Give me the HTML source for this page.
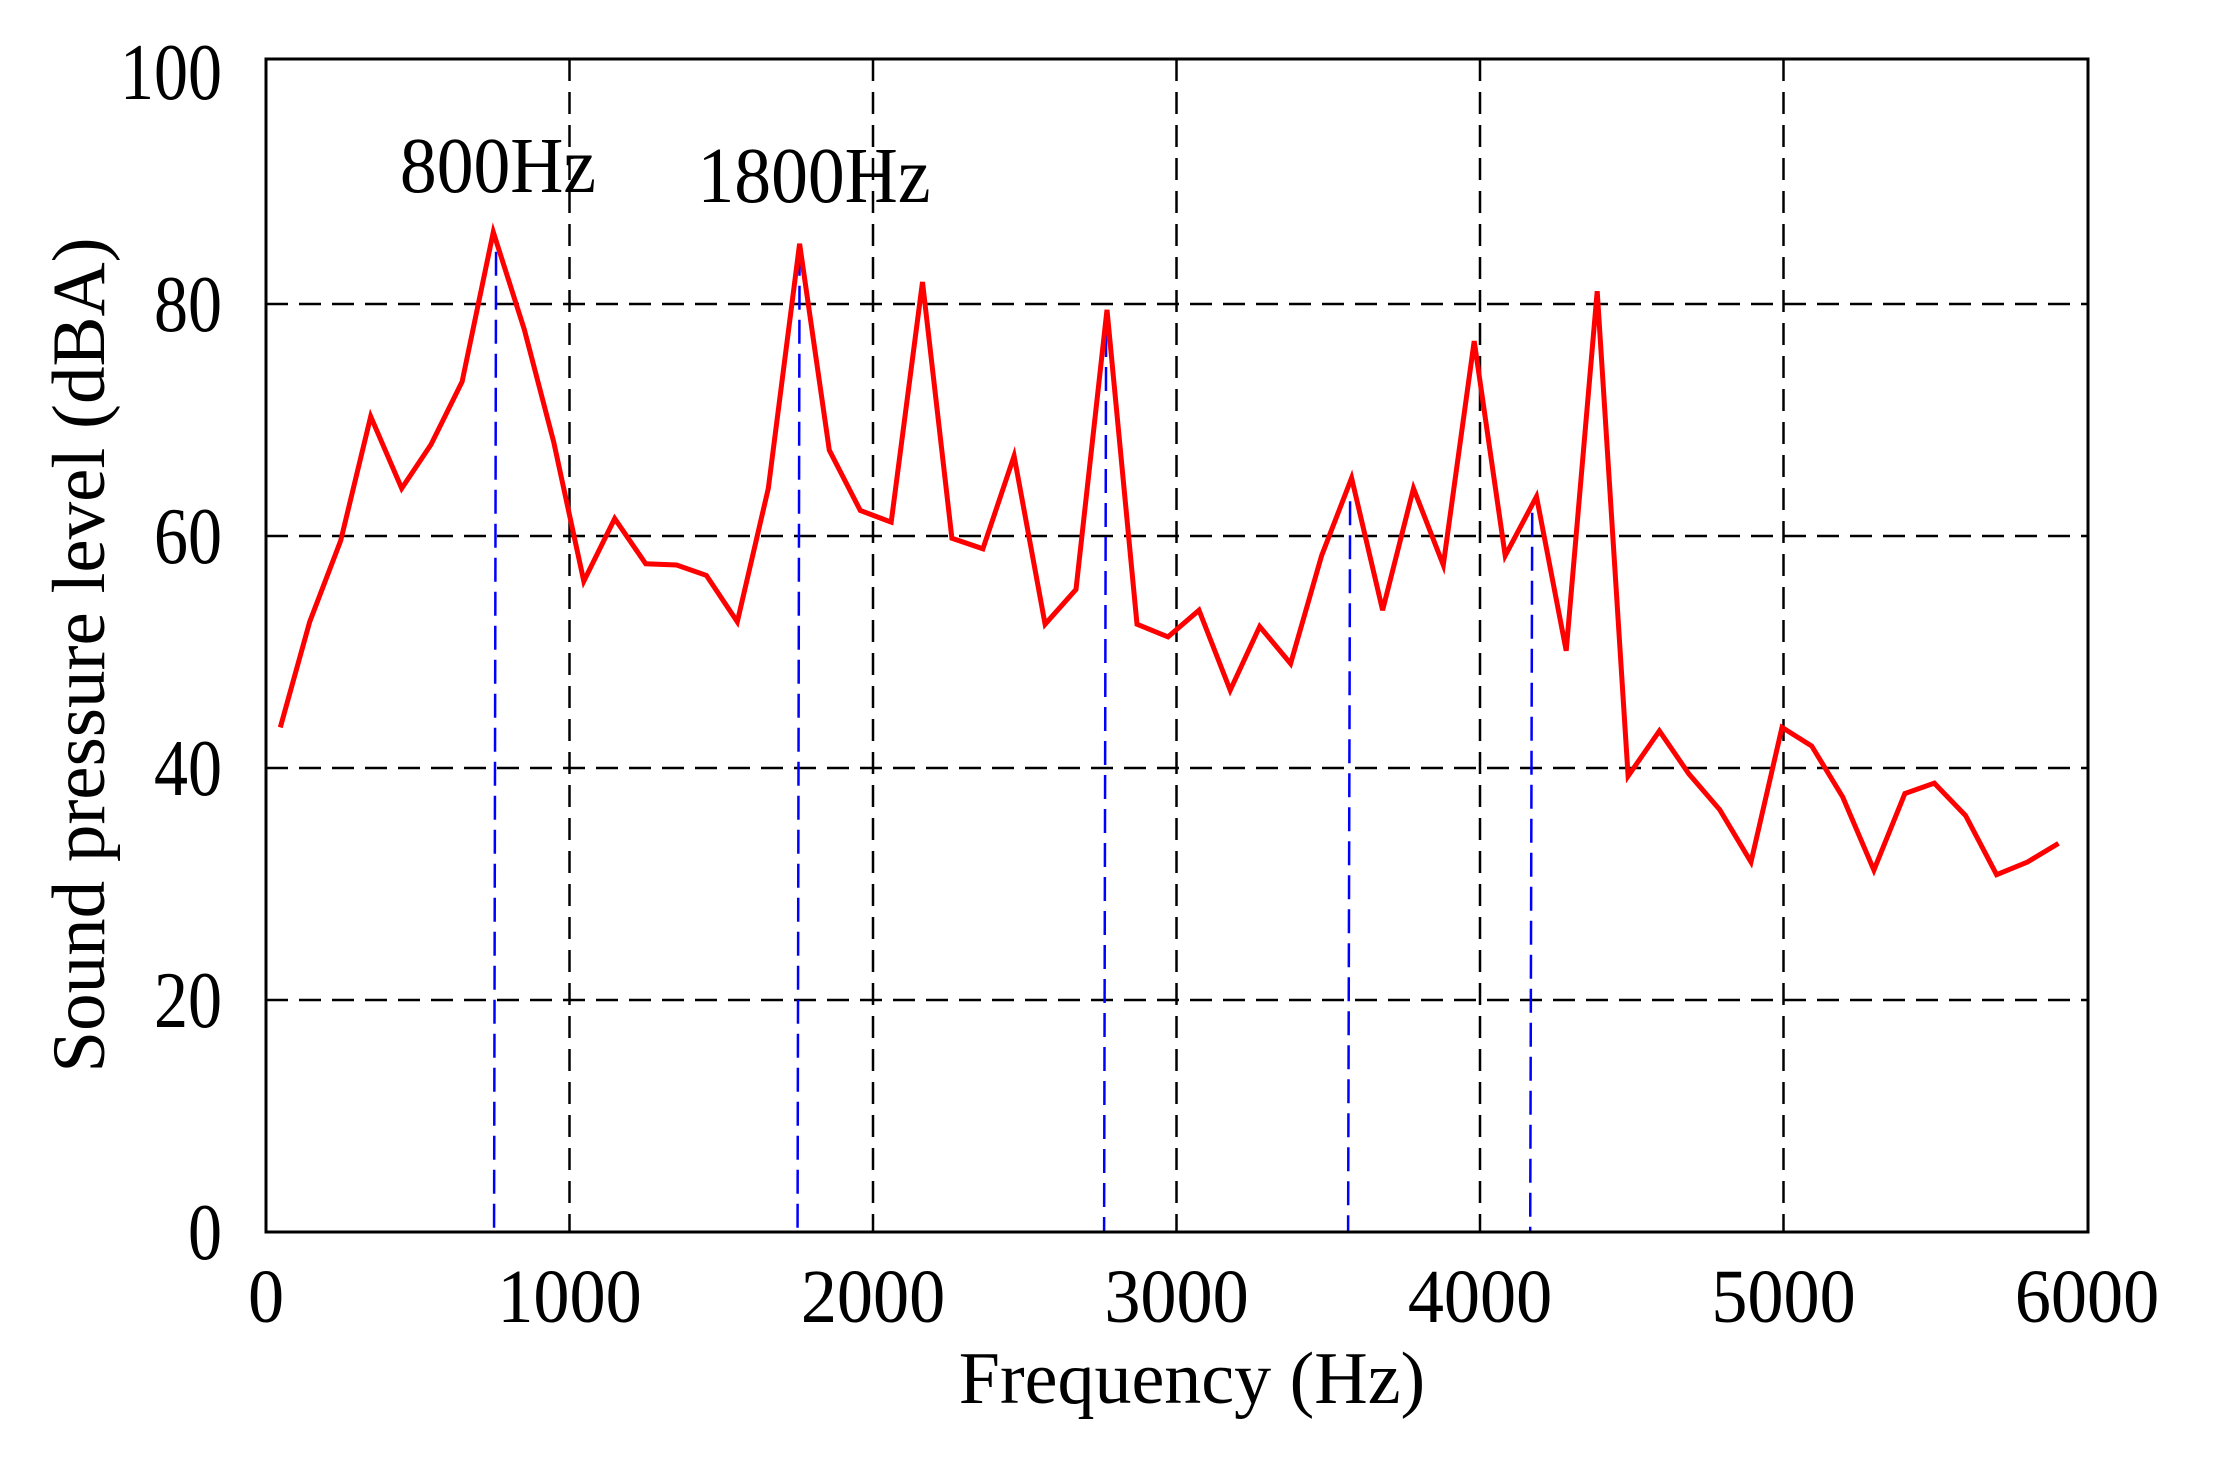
<!DOCTYPE html>
<html><head><meta charset="utf-8"><style>
html,body{margin:0;padding:0;background:#fff;}
svg{display:block;}
text{font-family:"Liberation Serif",serif;fill:#000;}
</style></head><body>
<svg id="chart" width="2215" height="1462" viewBox="0 0 2215 1462">
<g id="grid"></g>
<g id="peaks"></g>
<polyline id="series" fill="none" stroke="#ff0000" stroke-width="5" stroke-linejoin="miter"/>
<rect x="266" y="59" width="1822" height="1173" fill="none" stroke="#000" stroke-width="3"/>
<g id="ticks"></g>
<g transform="translate(498,192) scale(0.92,1)"><text x="0" y="0" font-size="80" text-anchor="middle">800Hz</text></g>
<g transform="translate(814,202) scale(0.92,1)"><text x="0" y="0" font-size="80" text-anchor="middle">1800Hz</text></g>
<text x="1192" y="1403" font-size="74" text-anchor="middle">Frequency (Hz)</text>
<text x="0" y="0" font-size="75" text-anchor="middle" transform="translate(104,655) rotate(-90)">Sound pressure level (dBA)</text>
</svg>
<script>
const freqs=[47,144,246,345,447,544,646,749,851,948,1047,1149,1251,1353,1451,1553,1655,1758,1856,1958,2060,2163,2260,2362,2465,2567,2669,2771,2870,2972,3074,3177,3274,3376,3478,3577,3679,3781,3879,3981,4083,4186,4284,4386,4488,4591,4688,4790,4893,4995,5093,5195,5298,5400,5497,5600,5702,5804,5906];
const levels=[43.5,52.6,59.6,70.3,64.1,67.9,73.3,86.2,77.8,68.1,56.1,61.5,57.6,57.5,56.6,52.6,64.1,85.2,67.4,62.2,61.2,81.9,59.8,58.9,66.9,52.4,55.4,79.5,52.4,51.3,53.6,46.7,52.2,49.0,58.3,65.0,53.6,64.1,57.5,76.8,58.3,63.4,50.1,81.1,39.3,43.2,39.5,36.4,31.9,43.5,41.9,37.5,31.2,37.8,38.7,35.9,30.8,31.9,33.5];
const peakFreqs=[758,1758,2768,3572,4172];
const peakTops=[84.5,84.5,77.5,63.0,62.0];
const xTicks=[0,1000,2000,3000,4000,5000,6000];
const yTicks=[0,20,40,60,80,100];
const xGrid=[1000,2000,3000,4000,5000];
const yGrid=[20,40,60,80];
const NS='http://www.w3.org/2000/svg';
function xs(h){return 266+h*0.3035;}
function ys(d){return 1232-d*11.6;}
function mk(tag,attrs,parent){const e=document.createElementNS(NS,tag);for(const k in attrs)e.setAttribute(k,attrs[k]);parent.appendChild(e);return e;}
const grid=document.getElementById('grid');
xGrid.forEach(h=>{const l=mk('line',{x1:xs(h),x2:xs(h),y1:59,y2:1232,stroke:'#000','stroke-width':2.5,'stroke-dasharray':'22 11'},grid);

});
yGrid.forEach(d=>{const l=mk('line',{x1:266,x2:2088,y1:ys(d),y2:ys(d),stroke:'#000','stroke-width':2.5,'stroke-dasharray':'22 11'},grid);

});
const peaks=document.getElementById('peaks');
peakFreqs.forEach((h,i)=>{const l=mk('line',{x1:xs(h),x2:xs(h)-2,y1:ys(peakTops[i]),y2:1232,stroke:'#0000ff','stroke-width':2.5,'stroke-dasharray':'24 10'},peaks);

});
document.getElementById('series').setAttribute('points',freqs.map((h,i)=>xs(h).toFixed(1)+','+ys(levels[i]).toFixed(1)).join(' '));
const ticks=document.getElementById('ticks');
xTicks.forEach(h=>{const g=mk('g',{transform:'translate('+xs(h)+',1322) scale(0.95,1)'},ticks);
const t=mk('text',{x:0,y:0,'font-size':76,'text-anchor':'middle'},g);t.textContent=h;

});
yTicks.forEach(d=>{const g=mk('g',{transform:'translate(222,'+(ys(d)+27)+') scale(0.85,1)'},ticks);
const t=mk('text',{x:0,y:0,'font-size':80,'text-anchor':'end'},g);t.textContent=d;

});
</script>
</body></html>
